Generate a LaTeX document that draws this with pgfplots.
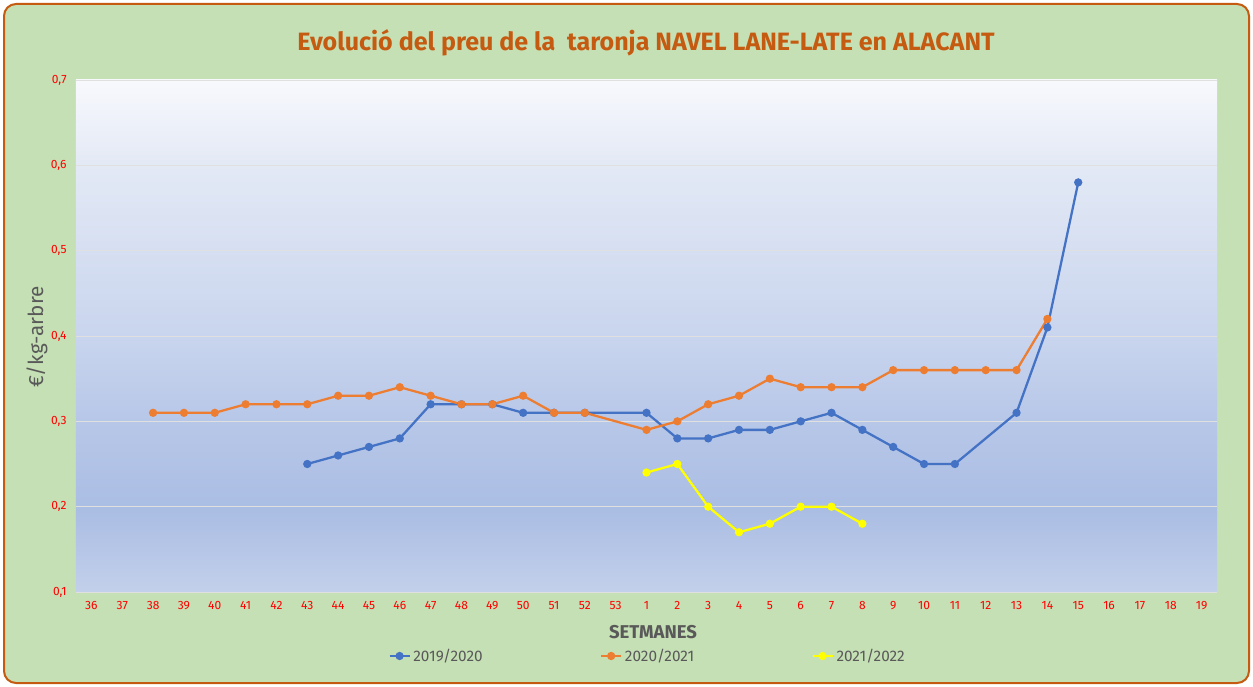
\documentclass[border=0pt]{standalone}
\usepackage{fontspec}
\setmainfont{Fira Sans}
\usepackage{pgfplots}
\pgfplotsset{compat=1.18}
\definecolor{frameG}{HTML}{C5E0B4}
\definecolor{frameO}{HTML}{C55A11}
\definecolor{cblue}{HTML}{4472C4}
\definecolor{corange}{HTML}{ED7D31}
\definecolor{cyellow}{HTML}{FFFF00}
\definecolor{gtext}{HTML}{595959}
\definecolor{bgA}{HTML}{C3D0EB}
\definecolor{bgB}{HTML}{AABDE3}
\definecolor{bgC}{HTML}{B7C7E8}
\definecolor{bgD}{HTML}{C9D5EE}
\definecolor{bgE}{HTML}{E3E9F5}
\definecolor{bgF}{HTML}{F8F9FD}
\pgfdeclareverticalshading{plotbg}{100bp}{color(0bp)=(bgA); color(25bp)=(bgA); color(33bp)=(bgB); color(41.7bp)=(bgC); color(50bp)=(bgD); color(66.7bp)=(bgE); color(75bp)=(bgF); color(100bp)=(bgF)}
\begin{document}
\begin{tikzpicture}
\path (0,0) rectangle (939.75pt,514.5pt);
\draw[frameO, line width=1.5pt, fill=frameG, rounded corners=9pt] (3pt,2.25pt) rectangle (936.75pt,511.5pt);
\node[font=\fontsize{18.8}{22}\selectfont\bfseries, text=frameO] at (484.5pt,482.25pt) {Evolució del preu de la\ \ taronja NAVEL LANE-LATE en ALACANT};
\begin{axis}[
  at={(57pt,70.5pt)}, anchor=south west,
  width=855.75pt, height=384pt, scale only axis,
  xmin=-0.5, xmax=36.5, ymin=0.1, ymax=0.7,
  axis line style={draw=none}, tick style={draw=none},
  axis background/.style={shading=plotbg},
  xtick={0,...,36},
  xticklabels={36,37,38,39,40,41,42,43,44,45,46,47,48,49,50,51,52,53,1,2,3,4,5,6,7,8,9,10,11,12,13,14,15,16,17,18,19},
  ytick={0.1,0.2,0.3,0.4,0.5,0.6,0.7},
  ymajorgrids, grid style={draw=black!12, line width=0.6pt},
  /pgf/number format/assume math mode=true,
  yticklabel style={/pgf/number format/.cd, use comma, fixed, fixed zerofill, precision=1},
  ticklabel style={font=\fontsize{9}{10}\selectfont, text=red},
  xticklabel shift=3.5pt, yticklabel shift=3.5pt,
  xlabel={SETMANES},
  xlabel style={at={(axis description cs:0.5057,-0.078)}, anchor=center, font=\fontsize{13.9}{16}\selectfont\bfseries, text=gtext},
  ylabel={€/kg-arbre},
  ylabel style={at={(axis description cs:-0.0342,0.498)}, anchor=center, rotate=0, font=\fontsize{15.5}{17}\selectfont, text=gtext},
  legend columns=3,
  legend style={at={(axis description cs:0.5013,-0.125)}, anchor=center, draw=none, fill=none, font=\fontsize{11.5}{13}\selectfont, text=gtext,
    /tikz/every even column/.append style={column sep=86pt}},
  legend image code/.code={\draw[#1, mark repeat=2, mark phase=2] plot coordinates {(0pt,0pt) (7.5pt,0pt) (15pt,0pt)};},
  every axis plot/.append style={line width=1.7pt, mark=*, mark size=2.2pt},
]
\addplot[cblue, mark options={fill=cblue, draw=cblue}] coordinates {
(7,0.25)(8,0.26)(9,0.27)(10,0.28)(11,0.32)(12,0.32)(13,0.32)(14,0.31)(15,0.31)(16,0.31)
(18,0.31)(19,0.28)(20,0.28)(21,0.29)(22,0.29)(23,0.30)(24,0.31)(25,0.29)(26,0.27)(27,0.25)(28,0.25)
(30,0.31)(31,0.41)(32,0.58)};
\addlegendentry{2019/2020}
\addplot[corange, mark options={fill=corange, draw=corange}] coordinates {
(2,0.31)(3,0.31)(4,0.31)(5,0.32)(6,0.32)(7,0.32)(8,0.33)(9,0.33)(10,0.34)(11,0.33)(12,0.32)(13,0.32)(14,0.33)(15,0.31)(16,0.31)
(18,0.29)(19,0.30)(20,0.32)(21,0.33)(22,0.35)(23,0.34)(24,0.34)(25,0.34)(26,0.36)(27,0.36)(28,0.36)(29,0.36)(30,0.36)(31,0.42)};
\addlegendentry{2020/2021}
\addplot[cyellow, mark options={fill=cyellow, draw=cyellow}] coordinates {
(18,0.24)(19,0.25)(20,0.20)(21,0.17)(22,0.18)(23,0.20)(24,0.20)(25,0.18)};
\addlegendentry{2021/2022}
\end{axis}
\end{tikzpicture}
\end{document}
